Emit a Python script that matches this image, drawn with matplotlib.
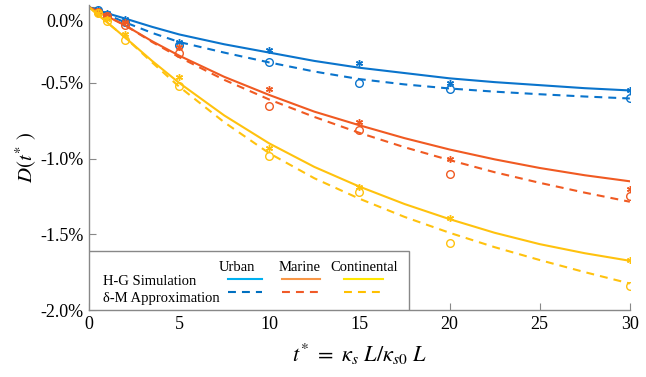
import numpy as np
import matplotlib
matplotlib.use("Agg")
import matplotlib.pyplot as plt
from matplotlib.lines import Line2D
from matplotlib.patches import Rectangle
from matplotlib.transforms import ScaledTranslation

plt.rcParams["font.family"] = ["Liberation Serif", "DejaVu Serif"]
plt.rcParams["mathtext.fontset"] = "stix"

# curves (values in %)
xc = [0, 1, 2, 3.5, 5, 7.5, 10, 12.5, 15, 17.5, 20, 22.5, 25, 27.5, 30]
urban_hg = [0, -0.04, -0.075, -0.13, -0.18, -0.245, -0.30, -0.355, -0.40, -0.435, -0.47, -0.495, -0.515, -0.535, -0.55]
urban_dm = [0, -0.05, -0.10, -0.17, -0.23, -0.30, -0.365, -0.425, -0.475, -0.51, -0.537, -0.558, -0.575, -0.59, -0.603]
marine_hg = [0, -0.06, -0.12, -0.225, -0.32, -0.46, -0.58, -0.69, -0.78, -0.865, -0.94, -1.005, -1.062, -1.11, -1.15]
marine_dm = [0, -0.06, -0.12, -0.23, -0.33, -0.48, -0.61, -0.725, -0.83, -0.925, -1.01, -1.09, -1.16, -1.225, -1.285]
cont_hg = [0, -0.10, -0.20, -0.355, -0.50, -0.715, -0.90, -1.055, -1.185, -1.30, -1.40, -1.49, -1.565, -1.625, -1.675]
cont_dm = [0, -0.10, -0.20, -0.365, -0.525, -0.76, -0.965, -1.13, -1.265, -1.385, -1.49, -1.585, -1.67, -1.75, -1.825]

# sample points
xp = [0.5, 1, 2, 5, 10, 15, 20, 30]
urban_hg_pts = [-0.02, -0.04, -0.08, -0.23, -0.28, -0.37, -0.50, -0.55]
urban_dm_pts = [-0.02, -0.05, -0.10, -0.25, -0.36, -0.50, -0.54, -0.60]
marine_hg_pts = [-0.03, -0.05, -0.10, -0.26, -0.54, -0.76, -1.00, -1.20]
marine_dm_pts = [-0.03, -0.06, -0.12, -0.30, -0.65, -0.81, -1.10, -1.25]
cont_hg_pts = [-0.04, -0.08, -0.18, -0.46, -0.93, -1.19, -1.39, -1.67]
cont_dm_pts = [-0.04, -0.09, -0.22, -0.52, -0.98, -1.22, -1.56, -1.84]

xticks = [0, 5, 10, 15, 20, 25, 30]
yticks = [-2.0, -1.5, -1.0, -0.5, 0.0]

blue = "#0a74cc"
orange = "#f05a22"
yellow = "#ffc20e"

fig = plt.figure(figsize=(6.46, 3.77), dpi=100)
ax = fig.add_axes([0.1378, 0.1777, 0.8372, 0.8093])

dash = (0, (3.8, 2.9))
series = [
    (urban_hg, urban_dm, urban_hg_pts, urban_dm_pts, blue),
    (marine_hg, marine_dm, marine_hg_pts, marine_dm_pts, orange),
    (cont_hg, cont_dm, cont_hg_pts, cont_dm_pts, yellow),
]
for hg, dm, hgp, dmp, c in series:
    ax.plot(xc, hg, color=c, lw=1.5)
    ax.plot(xc, dm, color=c, lw=1.5, ls=dash)
    ax.plot(xp, hgp, ls="none", marker=(6, 2, 0), ms=5, mew=1.0, color=c)
    ax.plot(xp, dmp, ls="none", marker="o", ms=5.5, mfc="none", mew=1.0, color=c)

ax.set_xlim(0, 30)
ax.set_ylim(-2.0, 0.015)
ax.set_xticks(xticks)
ax.set_yticks(yticks)
ax.set_yticklabels(["%.1f%%" % v for v in yticks])
ax.tick_params(direction="in", length=5, width=0.8, color="#888888", labelsize=13, pad=4)
for s in ["top", "right"]:
    ax.spines[s].set_visible(False)
for s in ["left", "bottom"]:
    ax.spines[s].set_color("#888888")
    ax.spines[s].set_linewidth(1.0)

top = ax.get_yticklabels()[-1]
top.set_transform(top.get_transform() + ScaledTranslation(0, -0.13, fig.dpi_scale_trans))

ax.set_ylabel(r"$D(t^{*}\ )$", fontsize=15, labelpad=1)
ax.set_xlabel(r"$t^{*}\ =\ \kappa_s\ L/\kappa_{s0}\ L$", fontsize=16, labelpad=7)

# custom legend table
ax.add_patch(Rectangle((0, 0), 0.591, 0.193, transform=ax.transAxes, fc="white",
                       ec="#888888", lw=1.0, zorder=5))
lk = dict(transform=ax.transAxes, fontsize=10.5, zorder=6)
ax.text(0.026, 0.095, "H-G Simulation", ha="left", va="center", **lk)
ax.text(0.026, 0.039, "δ-M Approximation", ha="left", va="center", **lk)
heads = ["Urban", "Marine", "Continental"]
head_x = [0.274, 0.39, 0.508]
seg = [(0.257, 0.320), (0.357, 0.427), (0.471, 0.543)]
solid_c = ["#00b0f0", "#f79646", "#ffe600"]
dash_c = ["#0070c0", "#f05a28", "#ffc000"]
for h, hx, (x0, x1), cs, cd in zip(heads, head_x, seg, solid_c, dash_c):
    ax.text(hx, 0.14, h, ha="center", va="center", **lk)
    ax.add_line(Line2D([x0, x1], [0.102, 0.102], transform=ax.transAxes, color=cs, lw=1.5, zorder=6))
    ax.add_line(Line2D([x0, x1], [0.059, 0.059], transform=ax.transAxes, color=cd, lw=1.5,
                       ls=dash, zorder=6))

fig.savefig("out.png", dpi=100)
